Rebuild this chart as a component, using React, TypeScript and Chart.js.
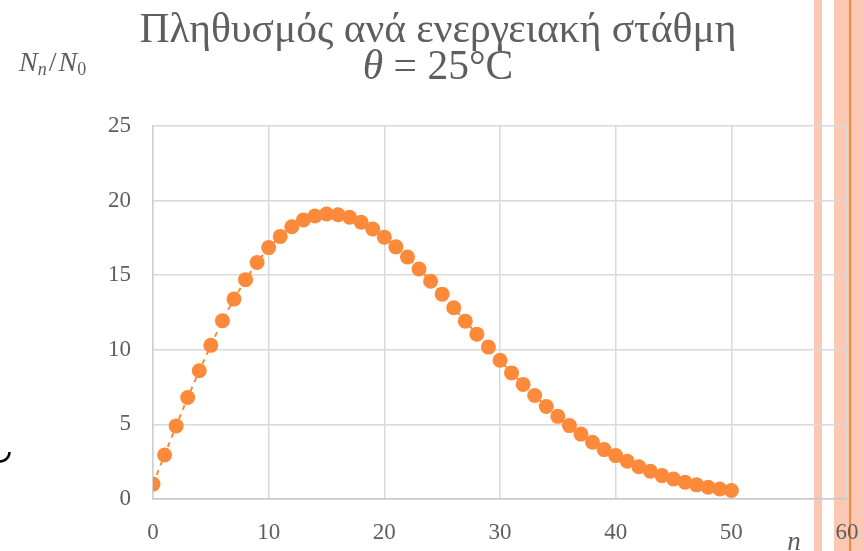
import React, { useEffect, useRef } from "react";
import { Chart, registerables } from "chart.js";

Chart.register(...registerables);

const levels: number[] = [
  0, 1, 2, 3, 4, 5, 6, 7, 8, 9, 10, 11, 12, 13, 14, 15, 16, 17, 18, 19, 20,
  21, 22, 23, 24, 25, 26, 27, 28, 29, 30, 31, 32, 33, 34, 35, 36, 37, 38, 39,
  40, 41, 42, 43, 44, 45, 46, 47, 48, 49, 50,
];

const population: number[] = [
  1.0, 2.95, 4.9, 6.8, 8.6, 10.3, 11.95, 13.4, 14.7, 15.85, 16.85, 17.6, 18.25,
  18.7, 18.97, 19.1, 19.05, 18.88, 18.55, 18.1, 17.55, 16.9, 16.22, 15.42, 14.6,
  13.73, 12.82, 11.92, 11.05, 10.18, 9.3, 8.45, 7.68, 6.94, 6.2, 5.54, 4.92,
  4.35, 3.8, 3.31, 2.91, 2.53, 2.16, 1.86, 1.57, 1.34, 1.12, 0.95, 0.79, 0.67,
  0.57,
];

const titleLine1 = "Πληθυσμός ανά ενεργειακή στάθμη";
const titleTheta = "θ";
const titleRest = " = 25°C";
const xTitle = "n";

const X_MIN = 0;
const X_MAX = 60;
const X_STEP = 10;
const Y_MIN = 0;
const Y_MAX = 25;
const Y_STEP = 5;

const ORANGE = "#FD8A3A";
const TEXT = "#5E5E5E";
const SERIF = "'Liberation Serif', 'DejaVu Serif', serif";

const decoPlugin = {
  id: "deco",
  beforeDraw(chart: any) {
    const ctx = chart.ctx as CanvasRenderingContext2D;
    const h = chart.height;
    ctx.save();
    ctx.fillStyle = "#FBC8B4";
    ctx.fillRect(814, 0, 8, h);
    ctx.fillRect(834, 0, 30, h);
    ctx.fillStyle = "#F5893A";
    ctx.fillRect(849, 0, 2, h);
    // fragment of slide text cut at left edge
    ctx.strokeStyle = "#000";
    ctx.lineWidth = 2.5;
    ctx.beginPath();
    ctx.arc(0, 452, 9.5, 0, Math.PI / 2);
    ctx.stroke();
    ctx.restore();
  },
  afterDraw(chart: any) {
    const ctx = chart.ctx as CanvasRenderingContext2D;
    ctx.save();
    ctx.fillStyle = TEXT;
    ctx.textBaseline = "alphabetic";
    // title line 1 fitted to width
    ctx.font = `40px ${SERIF}`;
    const w40 = ctx.measureText(titleLine1).width;
    const size = (40 * 597) / w40;
    ctx.font = `${size}px ${SERIF}`;
    const cx = 438;
    ctx.textAlign = "left";
    const w1 = ctx.measureText(titleLine1).width;
    ctx.fillText(titleLine1, cx - w1 / 2, 42);
    // line 2
    ctx.font = `italic ${size}px ${SERIF}`;
    const wt = ctx.measureText(titleTheta).width;
    ctx.font = `${size}px ${SERIF}`;
    const wr = ctx.measureText(titleRest).width;
    const x2 = cx - (wt + wr) / 2;
    ctx.font = `italic ${size}px ${SERIF}`;
    ctx.fillText(titleTheta, x2, 79);
    ctx.font = `${size}px ${SERIF}`;
    ctx.fillText(titleRest, x2 + wt, 79);

    // y-axis title N_n/N_0
    let x = 19;
    const base = 71;
    ctx.font = `italic 28px ${SERIF}`;
    ctx.fillText("N", x, base);
    x += ctx.measureText("N").width;
    ctx.font = `italic 18px ${SERIF}`;
    ctx.fillText("n", x, base + 4);
    x += ctx.measureText("n").width + 2;
    ctx.font = `28px ${SERIF}`;
    ctx.fillText("/", x, base);
    x += ctx.measureText("/").width + 2;
    ctx.font = `italic 28px ${SERIF}`;
    ctx.fillText("N", x, base);
    x += ctx.measureText("N").width;
    ctx.font = `18px ${SERIF}`;
    ctx.fillText("0", x, base + 4);

    // x-axis title
    ctx.font = `italic 27px ${SERIF}`;
    ctx.textAlign = "center";
    ctx.fillText(xTitle, 794, 550);
    ctx.restore();
  },
};

export default function App() {
  const ref = useRef<HTMLCanvasElement | null>(null);
  useEffect(() => {
    if (!ref.current) return;
    const chart = new Chart(ref.current, {
      type: "line",
      data: {
        datasets: [
          {
            data: levels.map((n, i) => ({ x: n, y: population[i] })),
            borderColor: ORANGE,
            borderWidth: 2,
            borderDash: [5, 5],
            backgroundColor: ORANGE,
            pointBackgroundColor: ORANGE,
            pointBorderWidth: 0,
            pointRadius: 7.5,
            fill: false,
            tension: 0,
          },
        ],
      },
      options: {
        animation: false,
        responsive: true,
        maintainAspectRatio: false,
        layout: { padding: { top: 126, right: 17, bottom: 0, left: 0 } },
        plugins: {
          legend: { display: false },
          tooltip: { enabled: false },
          title: { display: false },
        },
        scales: {
          x: {
            type: "linear",
            min: X_MIN,
            max: X_MAX,
            ticks: {
              stepSize: X_STEP,
              color: TEXT,
              font: { family: SERIF, size: 23 },
              padding: 20,
              maxRotation: 0,
            },
            grid: { color: "#D9D9D9", lineWidth: 1.5, drawTicks: false },
            border: { color: "#C8C8C8", width: 1.5 },
            afterFit: (s: any) => {
              s.height = 52;
              s.paddingLeft = 0;
              s.paddingRight = 0;
            },
          },
          y: {
            min: Y_MIN,
            max: Y_MAX,
            ticks: {
              stepSize: Y_STEP,
              color: TEXT,
              font: { family: SERIF, size: 23 },
              padding: 22,
            },
            grid: { color: "#D9D9D9", lineWidth: 1.5, drawTicks: false },
            border: { color: "#D0D0D0", width: 1.5 },
            afterFit: (s: any) => {
              s.width = 153;
              s.paddingTop = 0;
              s.paddingBottom = 0;
            },
          },
        },
      },
      plugins: [decoPlugin],
    });
    return () => chart.destroy();
  }, []);
  return (
    <div style={{ position: "fixed", left: 0, top: 0, width: 864, height: 551, background: "#fff" }}>
      <canvas ref={ref} />
    </div>
  );
}
